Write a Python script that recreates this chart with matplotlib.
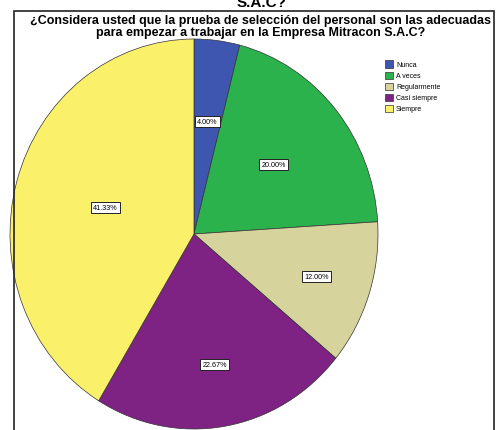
import numpy as np
import matplotlib.pyplot as plt
from matplotlib.patches import Rectangle

# Response counts (n = 75) for each answer category
categories = ['Nunca', 'A veces', 'Regularmente', 'Casi siempre', 'Siempre']
counts = [3, 15, 9, 17, 31]
colors = ['#3e56b0', '#2bb24c', '#d6d39c', '#7e2283', '#fbf06a']

title = ('¿Considera usted que la prueba de selección del personal son las adecuadas\n'
         'para empezar a trabajar en la Empresa Mitracon S.A.C?')

plt.rcParams['font.family'] = ['Liberation Sans', 'DejaVu Sans']

W, H = 497, 431
fig = plt.figure(figsize=(W / 100, H / 100), dpi=100)
fig.set_facecolor('white')

# heading cut off above the frame
fig.text(262 / W, 1 - 7 / H, 'S.A.C?', ha='center', va='baseline',
         fontsize=11, fontweight='bold')

# outer frame of the chart
fig.patches.append(Rectangle((14 / W, -0.05), 480 / W, 1 - 12 / H + 0.05,
                             transform=fig.transFigure, fill=False,
                             edgecolor='#222222', lw=1.2))

fig.text(261 / W, 1 - 27 / H, title, ha='center', va='center',
         fontsize=9, fontweight='bold', linespacing=0.95)

# pie, stretched slightly taller than wide
cx, cy, rx, ry = 194, 235, 184, 195
ax = fig.add_axes([(cx - rx) / W, 1 - (cy + ry) / H, 2 * rx / W, 2 * ry / H])
wedges, texts, autotexts = ax.pie(
    counts, colors=colors, startangle=90, counterclock=False,
    autopct='%1.2f%%', pctdistance=0.6,
    wedgeprops=dict(edgecolor='#333333', linewidth=0.5),
    textprops=dict(fontsize=5.2))
ax.set_aspect('auto')
ax.set_xlim(-1, 1)
ax.set_ylim(-1, 1)

# per-slice distance of the percentage boxes from the centre
label_r = [0.58, 0.56, 0.70, 0.68, 0.50]
for w, t, r in zip(wedges, autotexts, label_r):
    mid = np.deg2rad((w.theta1 + w.theta2) / 2)
    t.set_position((r * np.cos(mid), r * np.sin(mid)))
    t.set_bbox(dict(boxstyle='square,pad=0.3', facecolor='white',
                    edgecolor='#222222', linewidth=0.7))

leg = fig.legend(wedges, categories, loc='upper left',
                 bbox_to_anchor=(382 / W, 1 - 58 / H), frameon=False,
                 fontsize=5, handlelength=1.1, handleheight=1.2,
                 handletextpad=0.4, labelspacing=0.45, borderpad=0)
for h in leg.legend_handles:
    h.set_edgecolor('#333333')
    h.set_linewidth(0.5)

fig.savefig('out.png', dpi=100)
